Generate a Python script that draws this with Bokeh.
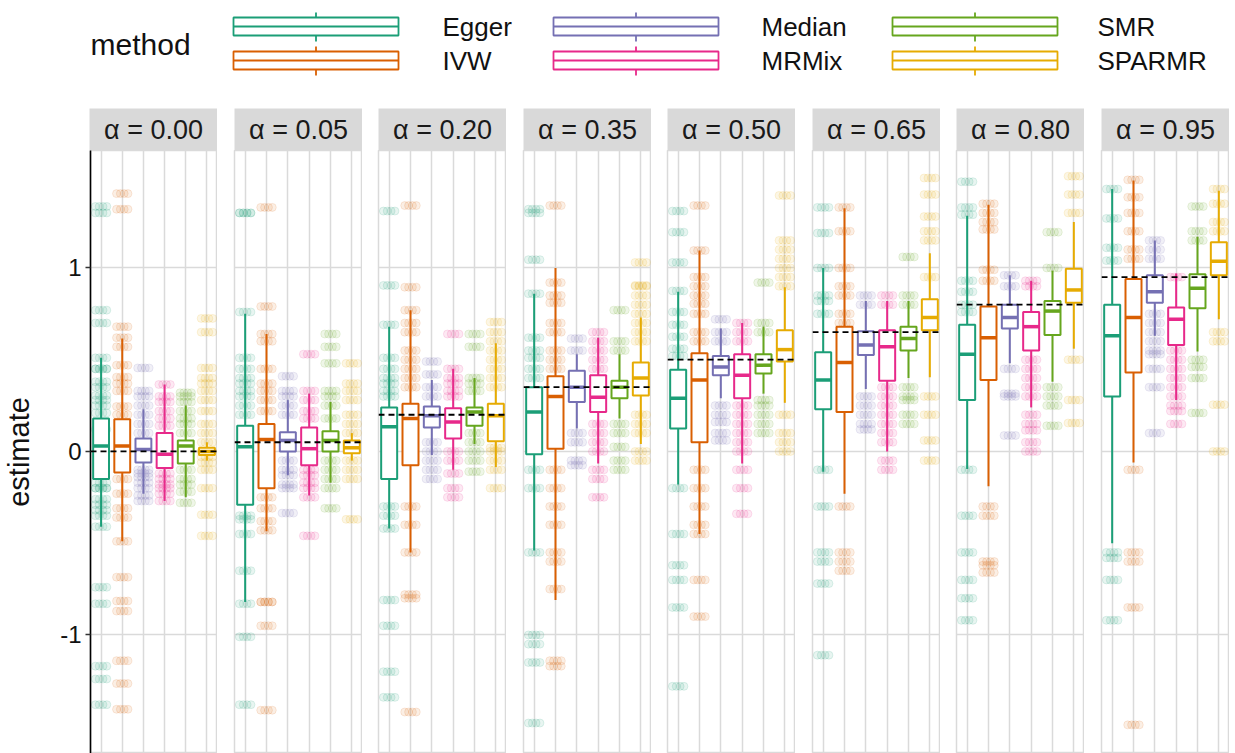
from bokeh.plotting import figure
from bokeh.models import Range1d, FactorRange, ColumnDataSource, Label, FixedTicker, Span
from bokeh.layouts import column, row
from bokeh.transform import dodge
from bokeh.embed import file_html
from bokeh.resources import INLINE
from bokeh.core.properties import value

FONT = "Liberation Sans"

methods = ["Egger", "IVW", "Median", "MRMix", "SMR", "SPARMR"]
colors = ["#1B9E77", "#D95F02", "#7570B3", "#E7298A", "#66A61E", "#E6AB02"]
alphas = [0.00, 0.05, 0.20, 0.35, 0.50, 0.65, 0.80, 0.95]
strip_labels = ["α = 0.00", "α = 0.05", "α = 0.20", "α = 0.35",
                "α = 0.50", "α = 0.65", "α = 0.80", "α = 0.95"]

# box statistics, one row per alpha panel, one entry per method
whisker_lo = [
    [-0.41, -0.49, -0.23, -0.27, -0.25, -0.05],
    [-0.82, -0.435, -0.13, -0.24, -0.17, -0.05],
    [-0.42, -0.55, -0.02, -0.10, 0.04, -0.085],
    [-0.54, -0.81, 0.125, -0.065, 0.18, 0.04],
    [-0.18, -0.45, 0.29, -0.065, 0.315, 0.265],
    [-0.11, -0.23, 0.34, 0.0, 0.40, 0.405],
    [-0.095, -0.19, 0.48, 0.24, 0.38, 0.56],
    [-0.50, -0.06, 0.63, 0.28, 0.545, 0.72],
]
box_q1 = [
    [-0.15, -0.115, -0.06, -0.09, -0.065, -0.02],
    [-0.29, -0.20, 0.0, -0.075, 0.0, -0.01],
    [-0.15, -0.075, 0.13, 0.07, 0.14, 0.055],
    [-0.015, 0.015, 0.27, 0.215, 0.29, 0.305],
    [0.125, 0.05, 0.415, 0.29, 0.425, 0.49],
    [0.23, 0.215, 0.525, 0.385, 0.55, 0.66],
    [0.28, 0.39, 0.67, 0.55, 0.635, 0.81],
    [0.30, 0.43, 0.81, 0.58, 0.78, 0.96],
]
box_median = [
    [0.03, 0.03, 0.01, -0.015, 0.03, 0.0],
    [0.025, 0.065, 0.06, 0.015, 0.06, 0.02],
    [0.135, 0.18, 0.195, 0.16, 0.215, 0.195],
    [0.215, 0.30, 0.35, 0.295, 0.35, 0.40],
    [0.29, 0.39, 0.46, 0.415, 0.47, 0.555],
    [0.39, 0.485, 0.58, 0.57, 0.615, 0.73],
    [0.53, 0.62, 0.73, 0.68, 0.765, 0.88],
    [0.63, 0.73, 0.87, 0.72, 0.89, 1.037],
]
box_q3 = [
    [0.18, 0.175, 0.07, 0.10, 0.06, 0.02],
    [0.14, 0.15, 0.105, 0.13, 0.11, 0.06],
    [0.24, 0.26, 0.245, 0.235, 0.24, 0.26],
    [0.35, 0.41, 0.44, 0.415, 0.385, 0.485],
    [0.445, 0.535, 0.52, 0.53, 0.53, 0.66],
    [0.54, 0.68, 0.655, 0.66, 0.68, 0.83],
    [0.69, 0.79, 0.80, 0.76, 0.82, 0.995],
    [0.80, 0.94, 0.96, 0.785, 0.965, 1.14],
]
whisker_hi = [
    [0.51, 0.615, 0.23, 0.365, 0.25, 0.05],
    [0.75, 0.64, 0.28, 0.315, 0.27, 0.10],
    [0.68, 0.77, 0.39, 0.45, 0.40, 0.59],
    [0.86, 1.0, 0.53, 0.62, 0.53, 0.73],
    [0.87, 1.095, 0.67, 0.70, 0.68, 0.895],
    [1.0, 1.325, 0.82, 0.82, 0.82, 1.08],
    [1.285, 1.345, 0.96, 0.93, 0.985, 1.25],
    [1.43, 1.477, 1.15, 0.97, 1.17, 1.42],
]

# individual estimates (jittered points), per panel, per method
pts_000 = [
    [1.335, 1.30, 0.77, 0.70, 0.51, 0.45, 0.45, 0.38, 0.35, 0.305, 0.28, 0.25, 0.21, 0.12, -0.17, -0.20, -0.20, -0.26, -0.29, -0.32, -0.35, -0.41, -0.74, -0.83, -1.17, -1.24, -1.38],
    [1.405, 1.32, 0.68, 0.62, 0.57, 0.47, 0.405, 0.37, 0.33, 0.245, 0.20, -0.15, -0.23, -0.31, -0.36, -0.49, -0.685, -0.815, -0.87, -1.14, -1.265, -1.405],
    [0.455, 0.33, 0.30, 0.25, 0.20, 0.15, 0.10, -0.10, -0.12, -0.14, -0.17, -0.20, -0.24, -0.27],
    [0.365, 0.30, 0.27, 0.22, 0.18, 0.14, -0.12, -0.15, -0.18, -0.20, -0.23, -0.27],
    [0.32, 0.30, 0.27, 0.22, 0.18, 0.15, 0.10, -0.10, -0.15, -0.18, -0.22, -0.28],
    [0.725, 0.65, 0.455, 0.40, 0.37, 0.33, 0.28, 0.22, 0.15, 0.10, 0.05, 0.0, 0.0, -0.03, -0.06, -0.10, -0.20, -0.345, -0.46],
]
pts_005 = [
    [1.30, 1.30, 0.76, 0.51, 0.45, 0.40, 0.37, 0.33, 0.30, 0.25, 0.20, -0.35, -0.37, -0.45, -0.65, -0.83, -1.01, -1.38],
    [1.33, 0.79, 0.64, 0.60, 0.45, 0.37, 0.33, 0.28, 0.22, -0.25, -0.31, -0.38, -0.43, -0.82, -0.82, -0.95, -1.41],
    [0.41, 0.33, 0.30, 0.25, 0.20, -0.05, -0.10, -0.13, -0.18, -0.20, -0.336],
    [0.53, 0.33, 0.28, 0.22, 0.18, -0.10, -0.13, -0.17, -0.20, -0.25, -0.46],
    [0.64, 0.57, 0.48, 0.33, 0.30, 0.25, 0.18, -0.05, -0.10, -0.15, -0.20, -0.31],
    [0.48, 0.37, 0.33, 0.28, 0.20, 0.15, 0.10, -0.05, -0.10, -0.15, -0.37],
]
pts_020 = [
    [1.31, 0.905, 0.69, 0.51, 0.45, 0.40, 0.37, 0.33, 0.30, -0.30, -0.35, -0.42, -0.81, -0.95, -1.20, -1.34],
    [1.34, 0.895, 0.77, 0.70, 0.65, 0.55, 0.50, 0.45, 0.40, 0.35, -0.30, -0.40, -0.55, -0.78, -0.80, -1.42],
    [0.49, 0.42, 0.35, 0.30, 0.05, 0.0, -0.05, -0.10, -0.15],
    [0.64, 0.45, 0.40, 0.37, 0.33, 0.30, 0.0, -0.05, -0.12, -0.20, -0.25],
    [0.64, 0.57, 0.40, 0.37, 0.33, 0.10, 0.05, 0.0, -0.05, -0.11],
    [0.705, 0.65, 0.60, 0.55, 0.50, 0.45, 0.40, 0.35, 0.02, 0.0, -0.05, -0.10, -0.20],
]
pts_035 = [
    [1.32, 1.30, 1.045, 0.86, 0.62, 0.55, 0.51, 0.45, 0.40, -0.10, -0.20, -0.55, -1.0, -1.05, -1.15, -1.48],
    [1.34, 0.92, 0.85, 0.81, 0.70, 0.65, 0.55, 0.50, 0.45, -0.10, -0.20, -0.30, -0.40, -0.55, -0.60, -0.75, -1.14, -1.17],
    [0.615, 0.55, 0.10, 0.05, -0.05, -0.075],
    [0.65, 0.60, 0.55, 0.50, 0.45, 0.15, 0.10, 0.05, 0.0, -0.10, -0.15, -0.25],
    [0.77, 0.60, 0.55, 0.15, 0.10, 0.025, -0.05, -0.10],
    [1.03, 0.905, 0.90, 0.85, 0.80, 0.75, 0.70, 0.65, 0.60, 0.20, 0.15, 0.10, 0.0, -0.05],
]
pts_050 = [
    [1.31, 1.195, 1.03, 0.875, 0.76, 0.69, 0.625, 0.56, 0.52, -0.20, -0.45, -0.62, -0.70, -0.85, -1.28],
    [1.34, 1.095, 0.95, 0.90, 0.85, 0.805, 0.75, 0.65, 0.60, -0.10, -0.20, -0.30, -0.40, -0.45, -0.70, -0.90],
    [0.72, 0.65, 0.60, 0.25, 0.20, 0.16, 0.10, 0.06],
    [0.70, 0.65, 0.60, 0.25, 0.20, 0.15, 0.10, 0.05, 0.0, -0.10, -0.20, -0.34],
    [0.92, 0.70, 0.65, 0.28, 0.25, 0.20, 0.15, 0.10],
    [1.395, 1.15, 1.10, 1.05, 1.00, 0.95, 0.90, 0.20, 0.10, 0.05, 0.0],
]
pts_065 = [
    [1.33, 1.19, 1.0, 0.85, 0.82, 0.75, -0.10, -0.30, -0.55, -0.60, -0.72, -1.11],
    [1.33, 1.20, 1.0, 0.90, 0.85, 0.75, 0.70, -0.30, -0.55, -0.60, -0.65],
    [0.85, 0.80, 0.30, 0.25, 0.20, 0.15, 0.12],
    [0.85, 0.80, 0.35, 0.30, 0.25, 0.20, 0.15, 0.10, 0.05, -0.05, -0.10],
    [1.06, 0.85, 0.80, 0.35, 0.30, 0.28, 0.20, 0.15],
    [1.49, 1.40, 1.28, 1.20, 1.15, 0.95, 0.30, 0.20, 0.06, -0.05],
]
pts_080 = [
    [1.47, 1.33, 1.29, 0.93, 0.87, 0.80, 0.76, -0.10, -0.35, -0.55, -0.70, -0.80, -0.92],
    [1.35, 1.30, 1.25, 1.21, 0.99, 0.93, -0.30, -0.35, -0.60, -0.62, -0.66],
    [0.96, 0.90, 0.45, 0.315, 0.30, 0.087],
    [0.93, 0.90, 0.50, 0.45, 0.40, 0.35, 0.30, 0.20, 0.15, 0.115, 0.05, 0.0],
    [1.195, 1.0, 0.35, 0.30, 0.25, 0.14],
    [1.50, 1.40, 1.30, 0.50, 0.28, 0.155],
]
pts_095 = [
    [1.43, 1.27, 1.11, 1.04, -0.55, -0.58, -0.70, -0.92],
    [1.48, 1.385, 1.30, 1.20, 1.10, 1.05, -0.10, -0.55, -0.60, -0.85, -1.49],
    [1.15, 1.10, 1.05, 0.75, 0.70, 0.65, 0.60, 0.55, 0.53, 0.45, 0.35, 0.10],
    [0.95, 0.55, 0.50, 0.45, 0.40, 0.35, 0.30, 0.25, 0.22, 0.15],
    [1.335, 1.20, 1.15, 0.50, 0.46, 0.40, 0.21],
    [1.43, 1.35, 1.25, 1.20, 0.65, 0.60, 0.255, 0.0],
]
points = [pts_000, pts_005, pts_020, pts_035, pts_050, pts_065, pts_080, pts_095]

# ---------------- layout constants ----------------
GRID = "#dadada"
panel_widths = [217, 145, 144, 145, 144, 145, 144, 145]
panel_borders = [89, 17, 16, 17, 16, 17, 16, 17]
Y_RANGE = (-1.646, 1.640)
TOTAL_W = sum(panel_widths)

# ---------------- legend ----------------
leg = figure(width=TOTAL_W, height=108, x_range=Range1d(0, TOTAL_W), y_range=Range1d(108, 0),
             toolbar_location=None, output_backend="svg", x_axis_location=None,
             y_axis_location=None, min_border=0, outline_line_color=None)
leg.grid.visible = False
key_left = [233, 553, 892]
label_x = [442, 761, 1097]
row_y = [26, 60]
kx0, kx1, kxc, ky, ktop, kbot, lx, wt0, wb1 = [], [], [], [], [], [], [], [], []
for i, m in enumerate(methods):
    c, r = i // 2, i % 2
    kx0.append(key_left[c]); kx1.append(key_left[c] + 165); kxc.append(key_left[c] + 82.5)
    ky.append(row_y[r]); ktop.append(row_y[r] - 9); kbot.append(row_y[r] + 9)
    lx.append(label_x[c])
    wt0.append(row_y[r] - 14); wb1.append(row_y[r] + 15)
lsrc = ColumnDataSource(dict(m=methods, color=colors, x0=kx0, x1=kx1, xc=kxc, y=ky,
                             top=ktop, bot=kbot, lx=lx, wt0=wt0, wb1=wb1))
leg.segment(x0="xc", x1="xc", y0="wt0", y1="top", line_color="color", line_width=1.8, source=lsrc)
leg.segment(x0="xc", x1="xc", y0="bot", y1="wb1", line_color="color", line_width=1.8, source=lsrc)
leg.quad(left="x0", right="x1", top="top", bottom="bot", fill_color="white",
         line_color="color", line_width=1.8, source=lsrc)
leg.segment(x0="x0", x1="x1", y0="y", y1="y", line_color="color", line_width=1.8, source=lsrc)
leg.text(x="lx", y="y", text="m", text_font=value(FONT), text_font_size=value("26px"),
         text_baseline="middle", text_align="left", text_color="#111111", source=lsrc)
leg.add_layout(Label(x=90, y=44, text="method", text_font=FONT, text_font_size="30px",
                     text_baseline="middle", text_align="left", text_color="#111111"))

# ---------------- strips and panels ----------------
strips, panels = [], []
for k in range(len(alphas)):
    s = figure(width=panel_widths[k], height=42, x_range=Range1d(0, 1), y_range=Range1d(0, 1),
               toolbar_location=None, output_backend="svg", x_axis_location=None,
               y_axis_location=None, min_border_left=panel_borders[k], min_border_right=0,
               min_border_top=0, min_border_bottom=0, outline_line_color=None,
               background_fill_color="#d9d9d9")
    s.grid.visible = False
    s.add_layout(Label(x=0.5, y=0.5, text=strip_labels[k], text_font=FONT,
                       text_font_size="27px", text_align="center", text_baseline="middle",
                       text_color="#1a1a1a"))
    strips.append(s)

    first = (k == 0)
    p = figure(width=panel_widths[k], height=603,
               x_range=FactorRange(*methods, range_padding=0),
               y_range=Range1d(*Y_RANGE), toolbar_location=None, output_backend="svg",
               x_axis_location=None, y_axis_location="left" if first else None,
               min_border_left=panel_borders[k], min_border_right=0, min_border_top=0,
               min_border_bottom=0, outline_line_color=GRID, outline_line_width=1.5)
    p.xgrid.grid_line_color = GRID
    p.xgrid.grid_line_width = 1.5
    p.ygrid.ticker = FixedTicker(ticks=[-1, 0, 1])
    p.ygrid.grid_line_color = GRID
    p.ygrid.grid_line_width = 1.5

    # jittered points
    xs, ys, cs = [], [], []
    for j, m in enumerate(methods):
        for v in points[k][j]:
            xs.append(m); ys.append(v); cs.append(colors[j])
    psrc = ColumnDataSource(dict(x=xs, y=ys, c=cs))
    for off in (-0.27, -0.09, 0.09, 0.27):
        p.scatter(x=dodge("x", off, range=p.x_range), y="y", size=8, fill_color="c",
                  line_color="c", fill_alpha=0.1, line_alpha=0.13, source=psrc)

    bsrc = ColumnDataSource(dict(m=methods, color=colors, lo=whisker_lo[k], q1=box_q1[k],
                                 med=box_median[k], q3=box_q3[k], hi=whisker_hi[k]))
    p.segment(x0="m", x1="m", y0="q3", y1="hi", line_color="color", line_width=2, source=bsrc)
    p.segment(x0="m", x1="m", y0="q1", y1="lo", line_color="color", line_width=2, source=bsrc)
    p.vbar(x="m", width=0.75, bottom="q1", top="q3", fill_color="white",
           line_color="color", line_width=2, source=bsrc)
    p.segment(x0=dodge("m", -0.375, range=p.x_range), x1=dodge("m", 0.375, range=p.x_range),
              y0="med", y1="med", line_color="color", line_width=3.5, source=bsrc)

    p.add_layout(Span(location=alphas[k], dimension="width", line_color="black",
                      line_dash="6 4", line_width=1.8))

    if first:
        ax = p.yaxis[0]
        ax.ticker = FixedTicker(ticks=[-1, 0, 1])
        ax.major_label_overrides = {-1: "-1", 0: "0", 1: "1"}
        ax.major_label_text_font = FONT
        ax.major_label_text_font_size = "24px"
        ax.major_label_text_color = "#111111"
        ax.major_label_standoff = 4
        ax.axis_label = "estimate"
        ax.axis_label_text_font = FONT
        ax.axis_label_text_font_size = "29px"
        ax.axis_label_text_font_style = "normal"
        ax.axis_label_text_color = "#111111"
        ax.axis_label_standoff = 22
        ax.axis_line_color = "black"
        ax.axis_line_width = 1.6
        ax.major_tick_out = 5
        ax.major_tick_in = 0
        ax.major_tick_line_color = "#333333"
        ax.major_tick_line_width = 1.5
        ax.minor_tick_line_color = None
    panels.append(p)

layout = column(leg, row(*strips), row(*panels))
open("out.html", "w").write(file_html(layout, INLINE))
